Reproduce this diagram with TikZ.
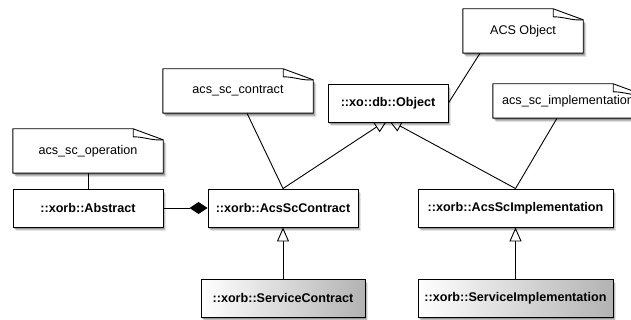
\documentclass[tikz,border=0pt]{standalone}
\usepackage{fontspec}
\setmainfont{Liberation Sans}
\usetikzlibrary{arrows.meta,shadows}
\pgfdeclarelayer{edges}
\pgfdeclarelayer{notes}
\pgfsetlayers{edges,notes,main}

\tikzset{
  soft/.style={
      drop shadow={shadow xshift=3.2pt, shadow yshift=-4pt, fill=black, opacity=0.10},
      drop shadow={shadow xshift=2.2pt, shadow yshift=-3pt, fill=black, opacity=0.16},
      drop shadow={shadow xshift=1.3pt, shadow yshift=-2pt, fill=black, opacity=0.22}},
  cls/.style={draw, line width=0.9pt, fill=white, soft, minimum height=38pt,
      inner sep=0pt, font=\fontsize{12.6}{15}\selectfont\bfseries},
  derived/.style={cls, left color=white, right color=black!30},
  notetext/.style={minimum height=44pt, minimum width=150pt, inner sep=0pt,
      font=\fontsize{12.6}{15}\selectfont},
  conn/.style={line width=0.9pt},
  gen/.style={conn, -{Triangle[length=14pt,width=12pt,fill=white]}},
  comp/.style={conn, -{Diamond[length=18pt,width=12pt]}},
}

% dog-eared note outline drawn behind the note's text node
\newcommand\noteoutline[1]{%
  \begin{pgfonlayer}{notes}
    \path[soft, fill=white, draw, line width=0.9pt, line join=round]
      (#1.north west) -- ([xshift=-30pt]#1.north east)
      -- ([yshift=-11pt]#1.north east) -- (#1.south east)
      -- (#1.south west) -- cycle;
    \draw[line width=0.9pt, line join=round]
      ([xshift=-30pt]#1.north east) -- ([xshift=-30pt,yshift=-8pt]#1.north east)
      to[out=0,in=185] ([yshift=-11pt]#1.north east);
  \end{pgfonlayer}}

\begin{document}
\begin{tikzpicture}[x=1pt,y=-1pt]
  \useasboundingbox (0,0) rectangle (631,320);

  % notes
  \node[notetext] (nop) at (88,151) {acs\_sc\_operation};
  \node[notetext] (ncon) at (238,91) {acs\_sc\_contract};
  \node[notetext, minimum width=120pt] (nobj) at (523,31) {ACS Object};
  \node[notetext, minimum height=34pt] (nimp) at (568,101) {acs\_sc\_implementation};
  \noteoutline{nop}
  \noteoutline{ncon}
  \noteoutline{nobj}
  \noteoutline{nimp}

  % classes
  \node[cls, minimum width=150pt] (abs) at (88,208) {::xorb::Abstract};
  \node[cls, minimum width=150pt] (con) at (283,208) {::xorb::AcsScContract};
  \node[derived, minimum width=164pt] (scon) at (283,298) {::xorb::ServiceContract};
  \node[cls, minimum width=120pt] (obj) at (388,103) {::xo::db::Object};
  \node[cls, minimum width=195pt] (imp) at (515.5,208) {::xorb::AcsScImplementation};
  \node[derived, minimum width=195pt] (simp) at (515.5,298) {::xorb::ServiceImplementation};

  \coordinate (objtip) at ([yshift=3pt]obj.south);

  % connectors
  \begin{pgfonlayer}{edges}
    \draw[conn] (nop) -- (abs);
    \draw[comp] (abs) -- (con);
    \draw[conn] ([xshift=9pt]ncon.south) -- (con.north);
    \draw[gen] (con.north) -- (objtip);
    \draw[gen] (imp.north) -- (objtip);
    \draw[conn] ([xshift=-11pt]nimp.south) -- (imp.north);
    \draw[conn] ([xshift=-43pt]nobj.south) -- (obj.east);
    \draw[gen] (scon) -- (con);
    \draw[gen] (simp) -- (imp);
  \end{pgfonlayer}
\end{tikzpicture}
\end{document}
